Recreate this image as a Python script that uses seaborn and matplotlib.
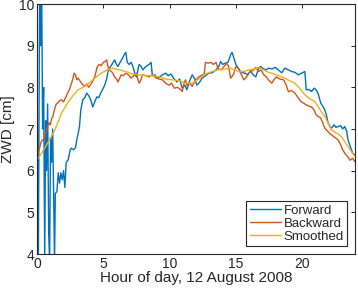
import numpy as np
import pandas as pd
import seaborn as sns
import matplotlib.pyplot as plt

# hour of day / ZWD [cm]
fwd_hours = [0.00, 0.05, 0.10, 0.15, 0.20, 0.28, 0.35, 0.42, 0.50, 0.58, 0.65, 0.72, 0.80, 0.88,
             0.95, 1.02, 1.10, 1.18, 1.25, 1.32, 1.38, 1.5, 1.6, 1.7, 1.8, 1.9, 2.0, 2.1, 2.2, 2.35,
             2.5, 2.6, 2.75, 2.9, 3.0, 3.1, 3.2, 3.3, 3.45, 3.6, 3.75, 3.9, 4.05, 4.2, 4.35, 4.5,
             4.65, 4.8, 4.95, 5.1, 5.25, 5.4, 5.55, 5.7, 5.85, 6.0, 6.1, 6.3, 6.45, 6.6, 6.7, 6.8,
             6.95, 7.1, 7.25, 7.4, 7.5, 7.7, 7.85, 8.0, 8.2, 8.45, 8.6, 8.7, 8.9, 9.05, 9.2, 9.45,
             9.7, 9.9, 10.1, 10.3, 10.55, 10.75, 10.95, 11.15, 11.3, 11.5, 11.7, 11.9, 12.05, 12.25,
             12.45, 12.7, 12.95, 13.2, 13.5, 13.7, 13.85, 14.0, 14.2, 14.4, 14.6, 14.7, 14.85, 15.0,
             15.2, 15.35, 15.5, 15.7, 15.9, 16.1, 16.3, 16.5, 16.7, 16.85, 17.1, 17.3, 17.45, 17.7,
             17.95, 18.2, 18.45, 18.7, 18.95, 19.2, 19.45, 19.7, 19.95, 20.2, 20.3, 20.5, 20.7, 20.9,
             21.05, 21.2, 21.4, 21.55, 21.7, 21.85, 21.95, 22.1, 22.2, 22.4, 22.55, 22.7, 22.9, 23.05,
             23.2, 23.35, 23.45, 23.6, 23.8, 23.95]
fwd_zwd = [8.7, 6.0, 3.8, 7.5, 10.5, 9.0, 10.5, 7.0, 8.0, 3.8, 7.2, 6.0, 7.6, 4.5,
           3.8, 6.8, 6.2, 7.0, 5.5, 3.8, 5.45, 5.5, 5.95, 5.7, 5.95, 5.78, 6.0, 5.6, 6.2, 6.26,
           6.5, 6.54, 6.5, 6.55, 6.74, 6.9, 7.05, 7.45, 7.7, 7.75, 7.86, 7.8, 7.7, 7.53, 7.65, 7.77,
           7.75, 7.86, 7.95, 8.05, 8.2, 8.45, 8.5, 8.58, 8.66, 8.55, 8.5, 8.62, 8.7, 8.8, 8.84, 8.6,
           8.55, 8.6, 8.48, 8.3, 8.25, 8.55, 8.5, 8.42, 8.5, 8.55, 8.6, 8.28, 8.3, 8.22, 8.24, 8.3,
           8.34, 8.28, 8.32, 8.22, 8.13, 8.2, 7.98, 8.05, 7.94, 8.15, 8.3, 8.2, 8.05, 8.12,
           8.22, 8.28, 8.34, 8.35, 8.42, 8.5, 8.62, 8.55, 8.58, 8.6, 8.78, 8.84, 8.7, 8.54,
           8.45, 8.38, 8.35, 8.34, 8.3, 8.4, 8.3, 8.25, 8.45, 8.5, 8.44, 8.42, 8.46, 8.44,
           8.48, 8.42, 8.35, 8.46, 8.42, 8.38, 8.36, 8.3, 8.34, 8.38, 7.94, 7.95, 7.9, 7.98,
           7.94, 7.85, 7.62, 7.55, 7.46, 7.3, 7.14, 7.06, 7.02, 7.1, 7.04, 7.06, 7.08, 7.0,
           7.06, 6.95, 6.74, 6.6, 6.42, 6.38]

bwd_hours = [0.0, 0.1, 0.2, 0.3, 0.4, 0.5, 0.6, 0.7, 0.8, 0.9, 1.0, 1.1, 1.2, 1.3, 1.45, 1.55,
             1.7, 1.85, 2.0, 2.1, 2.2, 2.3, 2.45, 2.6, 2.7, 2.8, 2.9, 3.0, 3.1, 3.25, 3.4, 3.6,
             3.75, 3.9, 4.0, 4.15, 4.35, 4.45, 4.55, 4.7, 4.85, 5.0, 5.15, 5.25, 5.35, 5.45, 5.6,
             5.7, 5.85, 6.0, 6.1, 6.2, 6.35, 6.5, 6.7, 6.9, 7.1, 7.3, 7.5, 7.6, 7.7, 7.8, 7.95,
             8.2, 8.45, 8.7, 9.0, 9.2, 9.45, 9.7, 9.95, 10.15, 10.35, 10.6, 10.85, 10.95, 11.1,
             11.2, 11.3, 11.5, 11.7, 11.9, 12.2, 12.45, 12.6, 12.7, 12.9, 13.1, 13.3, 13.5, 13.65,
             13.9, 14.1, 14.3, 14.45, 14.6, 14.8, 15.0, 15.2, 15.35, 15.6, 15.8, 15.95, 16.15,
             16.35, 16.5, 16.7, 16.9, 17.1, 17.3, 17.45, 17.7, 17.9, 18.05, 18.3, 18.6, 18.8,
             18.95, 19.2, 19.45, 19.7, 19.9, 20.1, 20.3, 20.5, 20.7, 20.9, 21.05, 21.2, 21.4,
             21.55, 21.7, 21.9, 22.05, 22.2, 22.45, 22.7, 22.9, 23.05, 23.25, 23.45, 23.6, 23.8, 23.95]
bwd_zwd = [6.35, 6.45, 6.55, 6.68, 6.74, 6.72, 6.85, 6.95, 7.05, 7.15, 7.1, 7.25, 7.3, 7.45, 7.6, 7.62,
           7.68, 7.7, 7.65, 7.72, 7.78, 7.86, 7.95, 8.1, 8.2, 8.34, 8.3, 8.18, 8.22, 8.15, 8.08, 8.02,
           8.08, 8.0, 8.05, 8.12, 8.25, 8.38, 8.5, 8.55, 8.52, 8.6, 8.62, 8.66, 8.5, 8.42, 8.38,
           8.35, 8.25, 8.2, 8.13, 8.2, 8.3, 8.28, 8.34, 8.3, 8.22, 8.28, 8.34, 8.2, 8.1, 8.15, 8.3,
           8.28, 8.25, 8.3, 8.22, 8.2, 8.18, 8.1, 8.05, 8.1, 7.98, 8.0, 7.94, 7.9, 8.12,
           8.18, 8.05, 8.1, 8.02, 8.15, 8.25, 8.3, 8.3, 8.6, 8.58, 8.6, 8.55, 8.6, 8.45,
           8.42, 8.5, 8.58, 8.5, 8.22, 8.3, 8.5, 8.45, 8.34, 8.18, 8.25, 8.34, 8.38,
           8.42, 8.48, 8.38, 8.42, 8.3, 8.25, 8.18, 8.1, 8.2, 8.25, 8.2, 8.18, 8.05,
           7.9, 7.92, 7.86, 7.75, 7.66, 7.62, 7.58, 7.55, 7.53, 7.45, 7.34, 7.3, 7.26,
           7.15, 7.02, 6.95, 6.9, 6.86, 6.8, 6.74, 6.62, 6.5, 6.4, 6.33, 6.25, 6.3, 6.22]

smo_hours = [0.0, 0.4, 0.8, 1.35, 1.85, 2.3, 2.7, 3.1, 3.6, 4.2, 4.85, 5.3, 5.7, 6.2, 6.7, 7.2,
             7.7, 8.2, 8.7, 9.2, 9.7, 10.2, 10.7, 11.2, 11.7, 12.2, 12.7, 13.2, 13.7, 14.2, 14.5,
             14.9, 15.2, 15.6, 15.95, 16.4, 16.7, 17.1, 17.45, 17.7, 18.2, 18.7, 19.1, 19.45, 19.8,
             20.2, 20.6, 20.95, 21.3, 21.7, 22.0, 22.2, 22.6, 22.95, 23.3, 23.7, 23.95]
smo_zwd = [6.25, 6.45, 6.66, 6.98, 7.38, 7.62, 7.8, 7.94, 8.02, 8.18, 8.34, 8.42, 8.46, 8.42, 8.38, 8.32,
           8.3, 8.28, 8.28, 8.25, 8.2, 8.18, 8.16, 8.1, 8.1, 8.2, 8.32, 8.38, 8.42, 8.44, 8.46,
           8.42, 8.38, 8.38, 8.42, 8.44, 8.48, 8.42, 8.36, 8.34, 8.28, 8.22, 8.15, 8.1, 7.98,
           7.82, 7.72, 7.66, 7.48, 7.3, 7.1, 6.98, 6.9, 6.82, 6.65, 6.46, 6.35]

series_names = ['Forward', 'Backward', 'Smoothed']
colors = ['#0072BD', '#D95319', '#EDB120']

df = pd.concat([
    pd.DataFrame({'hour': fwd_hours, 'zwd': fwd_zwd, 'series': 'Forward'}),
    pd.DataFrame({'hour': bwd_hours, 'zwd': bwd_zwd, 'series': 'Backward'}),
    pd.DataFrame({'hour': smo_hours, 'zwd': smo_zwd, 'series': 'Smoothed'}),
], ignore_index=True)

sns.set_style('white')
plt.rcParams['font.family'] = ['Liberation Sans', 'DejaVu Sans']

fig = plt.figure(figsize=(3.58, 2.93), dpi=100)
ax = fig.add_axes([0.1034, 0.1331, 0.889, 0.8532])

sns.lineplot(data=df, x='hour', y='zwd', hue='series', hue_order=series_names,
             palette=colors, estimator=None, sort=False, linewidth=1.0, ax=ax)

ax.set_xlim(0, 24)
ax.set_ylim(4, 10)
ax.set_xticks([0, 5, 10, 15, 20])
ax.set_yticks([4, 5, 6, 7, 8, 9, 10])
ax.tick_params(direction='in', length=3, width=0.7, labelsize=10, top=True, right=True,
               pad=2, colors='#262626')
for sp in ax.spines.values():
    sp.set_color('#262626')
    sp.set_linewidth(0.8)

ax.set_xlabel('Hour of day, 12 August 2008', fontsize=11, labelpad=0)
ax.set_ylabel('ZWD [cm]', fontsize=11, labelpad=3)

leg = ax.legend(loc='lower right', fontsize=9.5, handlelength=2.4, handletextpad=0.2,
                borderpad=0.25, labelspacing=0.05, borderaxespad=0.6, fancybox=False,
                framealpha=1, edgecolor='#262626')
leg.get_frame().set_linewidth(0.8)

fig.savefig('out.png', dpi=100)
